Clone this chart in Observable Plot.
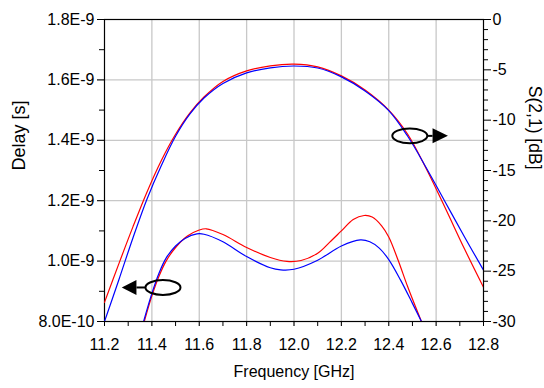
<!DOCTYPE html>
<html>
<head>
<meta charset="utf-8">
<script src="https://cdn.jsdelivr.net/npm/d3@7"></script>
<script src="https://cdn.jsdelivr.net/npm/@observablehq/plot@0.6"></script>
<style>
  html, body { margin: 0; padding: 0; background: #fff; }
  #chart { width: 544px; height: 388px; }
</style>
</head>
<body>
<div id="chart"></div>
<script>
// ---- Data ----
// S(2,1) in dB (right axis)
const s21RedFreq = [11.20, 11.26, 11.32, 11.38, 11.44, 11.50, 11.56, 11.62, 11.70, 11.80, 11.90, 12.00, 12.10, 12.20, 12.30, 12.40, 12.48, 12.56, 12.64, 12.72, 12.80];
const s21RedDb   = [-28.1, -24.3, -20.6, -17.1, -14.0, -11.4, -9.3, -7.7, -6.15, -5.1, -4.6, -4.43, -4.7, -5.6, -7.0, -9.0, -11.4, -14.9, -18.8, -22.8, -26.6];
const s21BlueFreq = [11.20, 11.26, 11.32, 11.38, 11.44, 11.50, 11.56, 11.62, 11.70, 11.80, 11.90, 12.00, 12.10, 12.20, 12.30, 12.40, 12.48, 12.56, 12.64, 12.72, 12.80];
const s21BlueDb   = [-30.0, -25.9, -21.7, -17.8, -14.5, -11.6, -9.4, -7.8, -6.35, -5.3, -4.8, -4.62, -4.82, -5.7, -7.1, -9.05, -11.6, -14.8, -18.2, -21.6, -24.9];

// Group delay in units of 1E-9 s (left axis)
const delayRedFreq = [11.368, 11.40, 11.43, 11.46, 11.50, 11.55, 11.60, 11.63, 11.70, 11.80, 11.90, 11.97, 12.03, 12.10, 12.15, 12.20, 12.25, 12.296, 12.33, 12.37, 12.40, 12.44, 12.48, 12.538];
const delayRed     = [0.80, 0.885, 0.950, 1.000, 1.045, 1.083, 1.103, 1.107, 1.088, 1.045, 1.012, 0.999, 1.002, 1.026, 1.062, 1.100, 1.138, 1.151, 1.146, 1.117, 1.080, 1.002, 0.915, 0.80];
const delayBlueFreq = [11.365, 11.40, 11.43, 11.46, 11.50, 11.54, 11.59, 11.62, 11.70, 11.80, 11.90, 11.944, 12.00, 12.10, 12.20, 12.28, 12.32, 12.36, 12.40, 12.45, 12.50, 12.538];
const delayBlue     = [0.80, 0.893, 0.960, 1.010, 1.050, 1.075, 1.090, 1.089, 1.064, 1.015, 0.978, 0.971, 0.973, 1.003, 1.050, 1.070, 1.064, 1.043, 1.005, 0.937, 0.860, 0.80];

// Axes
const xTicks = [11.2, 11.4, 11.6, 11.8, 12.0, 12.2, 12.4, 12.6, 12.8];
const xTickLabels = ["11.2", "11.4", "11.6", "11.8", "12.0", "12.2", "12.4", "12.6", "12.8"];
const xMinorTicks = [11.3, 11.5, 11.7, 11.9, 12.1, 12.3, 12.5, 12.7];
const yTicks = [0.8, 1.0, 1.2, 1.4, 1.6, 1.8];
const yTickLabels = ["8.0E-10", "1.0E-9", "1.2E-9", "1.4E-9", "1.6E-9", "1.8E-9"];
const yMinorTicks = [0.9, 1.1, 1.3, 1.5, 1.7];
const dbTicks = [0, -5, -10, -15, -20, -25, -30];
const dbTickLabels = ["0", "-5", "-10", "-15", "-20", "-25", "-30"];
const dbMinorTicks = [-1,-2,-3,-4,-6,-7,-8,-9,-11,-12,-13,-14,-16,-17,-18,-19,-21,-22,-23,-24,-26,-27,-28,-29];
const gridX = [11.4, 11.6, 11.8, 12.0, 12.2, 12.4, 12.6];
const gridY = [1.0, 1.2, 1.4, 1.6];

// Annotations: ellipse centre (freq, delay), arrow base / tip
const noteCenterFreq = [11.449, 12.491];
const noteCenterDelay = [0.911, 1.413];
const noteArrowBaseFreq = [11.337, 12.587];
const noteArrowTipFreq = [11.275, 12.652];

const titleX = "Frequency [GHz]";
const titleYLeft = "Delay [s]";
const titleYRight = "S(2,1) [dB]";

// ---- mapping dB (right axis) onto the delay scale ----
const dbToDelay = db => 1.8 + db / 30;

const s21Red = s21RedFreq.map((f, i) => ({f, v: dbToDelay(s21RedDb[i])}));
const s21Blue = s21BlueFreq.map((f, i) => ({f, v: dbToDelay(s21BlueDb[i])}));
const dRed = delayRedFreq.map((f, i) => ({f, v: delayRed[i]}));
const dBlue = delayBlueFreq.map((f, i) => ({f, v: delayBlue[i]}));
const notes = noteCenterFreq.map((f, i) => ({f, v: noteCenterDelay[i], base: noteArrowBaseFreq[i], tip: noteArrowTipFreq[i]}));

const RED = "#ff0000", BLUE = "#0000ff", GRID = "#c8c8c8";
const fontFam = "'Liberation Sans', Arial, sans-serif";

function annotations(index, scales, values, dims) {
  const g = d3.create("svg:g");
  for (const d of notes) {
    const cx = scales.x(d.f), cy = scales.y(d.v);
    const x0 = scales.x(d.base), x1 = scales.x(d.tip);
    const rx = 17.5, ry = 7.4;
    const dir = Math.sign(x1 - x0);
    const edge = cx + dir * rx;
    g.append("ellipse").attr("cx", cx).attr("cy", cy).attr("rx", rx).attr("ry", ry)
      .attr("fill", "none").attr("stroke", "#000").attr("stroke-width", 2);
    g.append("line").attr("x1", edge).attr("x2", x0).attr("y1", cy).attr("y2", cy)
      .attr("stroke", "#000").attr("stroke-width", 2);
    g.append("path").attr("d", `M${x1},${cy}L${x0},${cy - 7.5}L${x0},${cy + 7.5}Z`).attr("fill", "#000");
  }
  return g.node();
}

const chart = Plot.plot({
  width: 544,
  height: 388,
  marginLeft: 104,
  marginRight: 61,
  marginTop: 19,
  marginBottom: 67,
  style: {fontFamily: fontFam, background: "#fff", color: "#000", overflow: "visible"},
  x: {domain: [11.2, 12.8]},
  y: {domain: [0.8, 1.8]},
  marks: [
    Plot.ruleX(gridX, {stroke: GRID, strokeWidth: 1.3, insetBottom: -5}),
    Plot.ruleY(gridY, {stroke: GRID, strokeWidth: 1.3, insetLeft: -7}),
    // bottom axis
    Plot.axisX({ticks: xTicks, tickSize: 5, tickPadding: 12, tickFormat: d => xTickLabels[xTicks.findIndex(t => Math.abs(t - d) < 1e-9)], label: null, fontSize: 16, style: {letterSpacing: "-0.6px"}}),
    Plot.axisX({ticks: xMinorTicks, tickSize: 5, tickFormat: () => "", label: null}),
    // left axis
    Plot.axisY({ticks: yTicks, tickSize: 7, tickPadding: 3, tickFormat: d => yTickLabels[yTicks.findIndex(t => Math.abs(t - d) < 1e-9)], label: null, fontSize: 16, style: {letterSpacing: "-0.6px"}}),
    Plot.axisY({ticks: yMinorTicks, tickSize: 5, tickFormat: () => "", label: null}),
    // right axis (dB)
    Plot.axisY({anchor: "right", ticks: dbTicks.map(dbToDelay), tickSize: 7, tickPadding: 2, tickFormat: d => dbTickLabels[dbTicks.findIndex(t => Math.abs(dbToDelay(t) - d) < 1e-9)], label: null, fontSize: 16, style: {letterSpacing: "-0.6px"}}),
    Plot.axisY({anchor: "right", ticks: dbMinorTicks.map(dbToDelay), tickSize: 4, tickFormat: () => "", label: null}),
    Plot.frame({stroke: "#000", strokeWidth: 1.2}),
    // curves
    Plot.line(s21Red, {x: "f", y: "v", stroke: RED, strokeWidth: 1.2, curve: "catmull-rom", clip: true}),
    Plot.line(s21Blue, {x: "f", y: "v", stroke: BLUE, strokeWidth: 1.2, curve: "catmull-rom", clip: true}),
    Plot.line(dRed, {x: "f", y: "v", stroke: RED, strokeWidth: 1.2, curve: "catmull-rom", clip: true}),
    Plot.line(dBlue, {x: "f", y: "v", stroke: BLUE, strokeWidth: 1.2, curve: "catmull-rom", clip: true}),
    annotations,
    // axis titles
    Plot.text([titleX], {text: d => d, frameAnchor: "bottom", dy: 55, fontSize: 16, style: {letterSpacing: "-0.6px"}}),
    Plot.text([titleYLeft], {text: d => d, frameAnchor: "left", dx: -85, dy: 0, rotate: -90, fontSize: 18}),
    Plot.text([titleYRight], {text: d => d, frameAnchor: "right", dx: 51.5, dy: -1, rotate: 90, fontSize: 17.5})
  ]
});
document.getElementById("chart").appendChild(chart);
</script>
</body>
</html>
